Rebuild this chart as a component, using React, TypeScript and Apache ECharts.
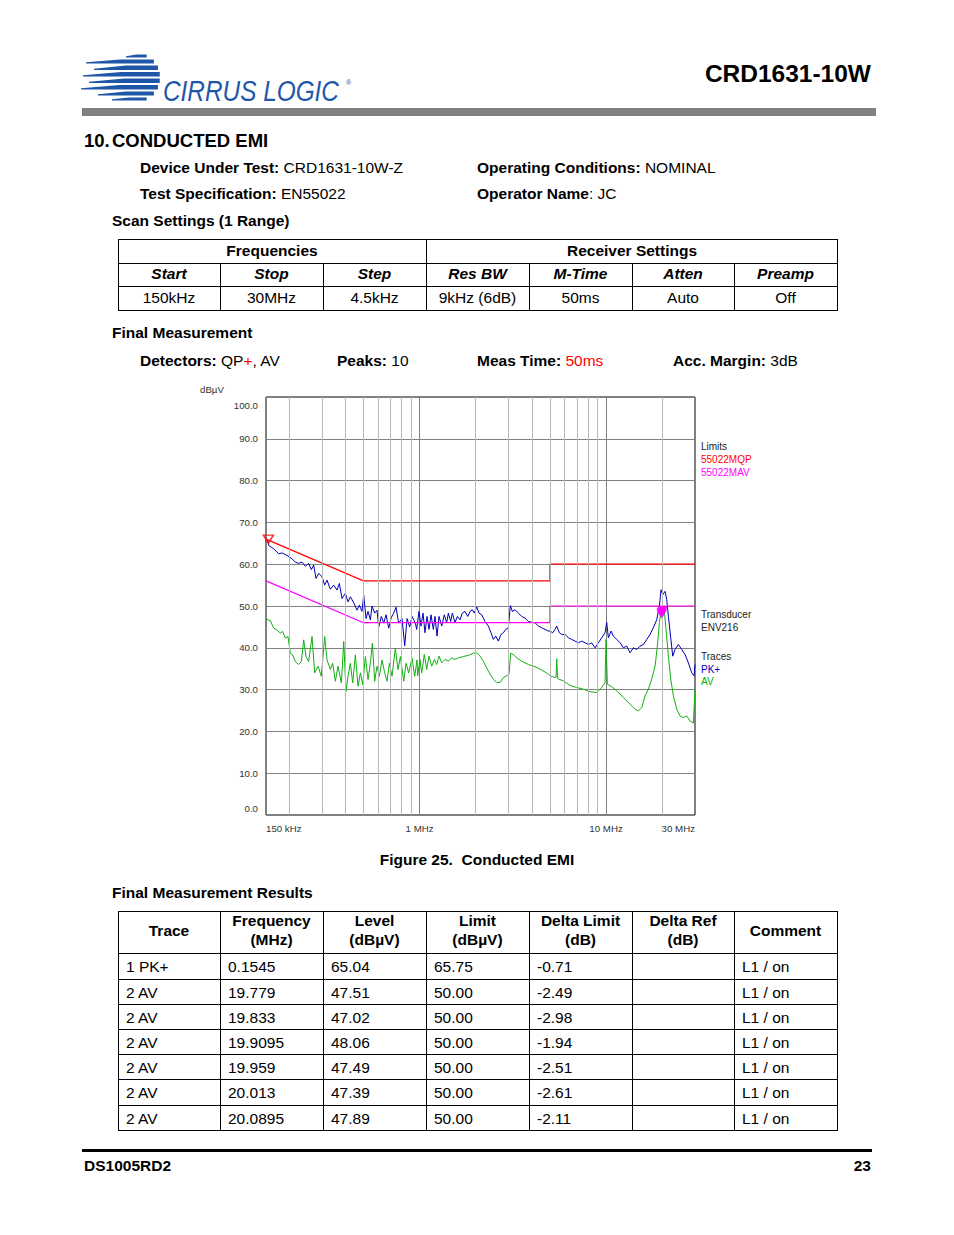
import React, { useEffect, useRef } from 'react';
import * as echarts from 'echarts';

const FONT = '"Liberation Sans", Arial, Helvetica, sans-serif';

// ---------- Data ----------
const pkFreq = [0.15, 0.1519, 0.1545, 0.155, 0.1649, 0.1754, 0.1828, 0.1944, 0.2068, 0.2155, 0.2245, 0.2341, 0.2439, 0.2541, 0.2626, 0.2703, 0.2782, 0.2875, 0.2997, 0.3096, 0.3187, 0.3321, 0.3461, 0.3606, 0.3711, 0.3835, 0.3997, 0.4131, 0.4252, 0.4431, 0.4617, 0.4752, 0.491, 0.5013, 0.516, 0.5289, 0.5443, 0.5557, 0.5742, 0.591, 0.6033, 0.6236, 0.6419, 0.6606, 0.6827, 0.7055, 0.7261, 0.7473, 0.7723, 0.8049, 0.8319, 0.8562, 0.8849, 0.9108, 0.9489, 0.9645, 0.9926, 1.0175, 1.043, 1.069, 1.096, 1.123, 1.151, 1.185, 1.209, 1.24, 1.271, 1.314, 1.357, 1.397, 1.426, 1.468, 1.498, 1.548, 1.594, 1.647, 1.695, 1.752, 1.811, 1.864, 1.918, 1.966, 2.024, 2.083, 2.153, 2.243, 2.338, 2.415, 2.487, 2.559, 2.645, 2.733, 2.813, 2.896, 2.992, 3.067, 3.145, 3.25, 3.387, 3.528, 3.678, 3.832, 3.994, 4.16, 4.335, 4.518, 4.707, 4.905, 5.009, 5.176, 5.326, 5.437, 5.618, 5.782, 6.026, 6.281, 6.545, 6.821, 7.106, 7.405, 7.716, 8.04, 8.378, 8.73, 9.097, 9.48, 9.877, 10.08, 10.29, 10.64, 10.95, 11.41, 11.89, 12.39, 12.91, 13.45, 14.02, 14.61, 15.22, 15.86, 16.53, 17.22, 17.94, 18.7, 19.32, 19.72, 20.14, 20.73, 21.16, 21.6, 22.23, 22.79, 23.45, 24.43, 25.46, 26.53, 27.65, 28.81, 29.66, 30];
const pkLevel = [65.6, 65.8, 65.0, 64.5, 63.7, 62.5, 62.7, 62.1, 61.3, 60.5, 60.2, 60.5, 59.5, 60.2, 58.7, 59.8, 56.6, 57.8, 57.0, 55.0, 56.2, 54.0, 55.0, 53.8, 55.4, 51.8, 53.0, 51.0, 52.2, 50.8, 49.0, 50.2, 48.7, 52.6, 47.0, 48.7, 46.7, 50.0, 48.3, 49.0, 45.0, 47.5, 45.9, 47.9, 44.7, 47.3, 48.3, 49.7, 45.9, 47.0, 40.5, 47.0, 45.0, 47.5, 45.9, 44.4, 48.7, 45.2, 48.3, 43.6, 47.5, 44.4, 47.9, 44.4, 47.5, 42.8, 47.5, 45.2, 47.9, 46.0, 48.3, 46.3, 48.3, 46.0, 47.5, 46.7, 48.3, 48.7, 47.5, 48.7, 49.1, 48.3, 49.8, 48.3, 47.9, 46.3, 45.2, 43.6, 42.0, 42.8, 41.6, 43.2, 43.6, 44.4, 44.8, 50.1, 48.7, 49.1, 48.3, 47.5, 47.1, 46.3, 46.1, 46.0, 45.2, 44.8, 44.4, 44.0, 44.0, 43.6, 44.4, 45.2, 43.6, 43.2, 43.2, 42.4, 42.0, 41.6, 41.2, 41.6, 41.2, 40.8, 41.2, 40.0, 41.2, 42.4, 43.6, 46.1, 42.4, 44.0, 42.8, 42.0, 41.2, 40.0, 40.4, 38.8, 40.0, 39.6, 40.4, 40.8, 42.0, 43.2, 44.8, 46.7, 49.9, 53.9, 52.7, 53.5, 51.5, 47.5, 42.4, 38.0, 39.6, 40.8, 39.6, 38.4, 36.4, 34.0, 33.3, 36.0];

const avFreq = [0.15, 0.1519, 0.1582, 0.1649, 0.1719, 0.1791, 0.1842, 0.1905, 0.1968, 0.2026, 0.2085, 0.2155, 0.2245, 0.2321, 0.2389, 0.2459, 0.2541, 0.2648, 0.2736, 0.2852, 0.2971, 0.3096, 0.3187, 0.3321, 0.3418, 0.3533, 0.3651, 0.3804, 0.3917, 0.4031, 0.4131, 0.4252, 0.4376, 0.4523, 0.4674, 0.4812, 0.4952, 0.5117, 0.5289, 0.5443, 0.558, 0.5742, 0.591, 0.6083, 0.6285, 0.6497, 0.6688, 0.6885, 0.7113, 0.741, 0.7662, 0.7886, 0.8217, 0.8457, 0.8739, 0.9108, 0.9413, 0.9688, 0.976, 1.005, 1.026, 1.06, 1.091, 1.123, 1.161, 1.2, 1.235, 1.271, 1.314, 1.369, 1.426, 1.486, 1.548, 1.614, 1.716, 1.826, 1.942, 2.024, 2.109, 2.197, 2.29, 2.386, 2.487, 2.591, 2.7, 2.813, 2.932, 3.017, 3.08, 3.184, 3.318, 3.528, 3.832, 4.16, 4.518, 4.905, 5.009, 5.326, 5.392, 5.437, 5.505, 5.903, 6.411, 6.962, 7.559, 8.207, 8.911, 9.48, 9.877, 10.0, 10.16, 10.72, 11.41, 12.39, 13.45, 14.31, 14.91, 15.54, 16.19, 16.87, 17.58, 18.32, 18.85, 19.32, 19.72, 20.14, 20.55, 20.98, 21.6, 22.23, 22.98, 23.94, 24.95, 25.99, 27.08, 28.22, 29.41, 30];
const avLevel = [46.9, 46.8, 46.5, 44.7, 44.3, 43.5, 43.9, 42.3, 42.7, 38.7, 38.3, 36.7, 36.0, 36.7, 41.9, 37.9, 36.7, 42.7, 34.0, 35.6, 33.2, 42.7, 37.1, 34.8, 36.3, 32.0, 35.6, 31.6, 41.5, 29.6, 33.2, 36.3, 31.6, 38.3, 30.8, 34.0, 31.2, 37.9, 32.4, 36.3, 41.1, 32.0, 35.6, 33.2, 37.1, 34.0, 32.0, 36.3, 33.2, 39.9, 34.8, 37.9, 32.0, 36.3, 34.0, 37.5, 33.2, 37.1, 33.3, 37.2, 34.0, 38.4, 34.8, 38.0, 35.6, 37.2, 36.0, 38.0, 36.4, 37.2, 36.8, 37.6, 37.2, 37.6, 37.9, 38.2, 38.7, 38.8, 38.0, 36.8, 35.2, 33.7, 32.5, 31.7, 31.7, 32.9, 33.3, 33.7, 38.7, 38.4, 37.6, 36.8, 36.0, 35.5, 34.7, 33.7, 33.3, 32.9, 32.9, 37.4, 32.6, 32.1, 31.0, 30.5, 30.1, 29.5, 29.3, 30.5, 31.7, 42.0, 31.3, 30.7, 29.7, 28.1, 26.5, 25.3, 24.9, 25.7, 28.5, 30.1, 32.5, 35.6, 40.4, 46.0, 48.7, 47.5, 48.7, 44.4, 38.0, 32.5, 28.5, 25.3, 23.7, 23.3, 23.7, 22.5, 22.0, 30.1];

const qpLimitFreq = [0.15, 0.5, 5, 5, 30];
const qpLimitLevel = [66, 56, 56, 60, 60];
const avLimitFreq = [0.15, 0.5, 5, 5, 30];
const avLimitLevel = [56, 46, 46, 50, 50];

const xTickValues = [0.15, 1, 10, 30];
const xTickLabels = ['150 kHz', '1 MHz', '10 MHz', '30 MHz'];
const minorGridFreq = [0.2, 0.3, 0.4, 0.5, 0.6, 0.7, 0.8, 0.9, 2, 3, 4, 5, 6, 7, 8, 9, 20];

// Final measurement results
const resTrace = ['1 PK+', '2 AV', '2 AV', '2 AV', '2 AV', '2 AV', '2 AV'];
const resFreq = ['0.1545', '19.779', '19.833', '19.9095', '19.959', '20.013', '20.0895'];
const resLevel = ['65.04', '47.51', '47.02', '48.06', '47.49', '47.39', '47.89'];
const resLimit = ['65.75', '50.00', '50.00', '50.00', '50.00', '50.00', '50.00'];
const resDelta = ['-0.71', '-2.49', '-2.98', '-1.94', '-2.51', '-2.61', '-2.11'];
const resRef = ['', '', '', '', '', '', ''];
const resComment = ['L1 / on', 'L1 / on', 'L1 / on', 'L1 / on', 'L1 / on', 'L1 / on', 'L1 / on'];

// Scan settings
const scanHeads = ['Start', 'Stop', 'Step', 'Res BW', 'M-Time', 'Atten', 'Preamp'];
const scanValues = ['150kHz', '30MHz', '4.5kHz', '9kHz (6dB)', '50ms', 'Auto', 'Off'];

// ---------- Chart ----------
const zip = (a: number[], b: number[]) => a.map((v, i) => [v, b[i]]);

function EmiChart() {
  const ref = useRef<HTMLDivElement>(null);
  useEffect(() => {
    if (!ref.current) return;
    const chart = echarts.init(ref.current, undefined, { renderer: 'svg' });
    const peaks = resTrace.map((t, i) => ({ t, v: [parseFloat(resFreq[i]), parseFloat(resLevel[i])] }));
    const pkPeaks = peaks.filter(d => d.t.includes('PK')).map(d => d.v);
    const avPeaks = peaks.filter(d => d.t.includes('AV')).map(d => d.v);
    const lbl = { fontFamily: FONT, fontSize: 9.7, color: '#333' };
    const leg = (text: string, y: number, fill: string) => ({ type: 'text', x: 701, y, style: { text, fontFamily: FONT, fontSize: 10, fill, verticalAlign: 'middle' } });
    const option: any = {
      animation: false,
      backgroundColor: 'transparent',
      textStyle: { fontFamily: FONT },
      grid: { left: 266, top: 397, width: 429, height: 418, show: true, borderColor: '#000', borderWidth: 1, backgroundColor: 'transparent', containLabel: false, outerBoundsMode: 'none' },
      xAxis: {
        type: 'log', logBase: 10, min: 0.15, max: 30,
        axisLine: { show: false }, axisTick: { show: false },
        splitLine: { show: true, lineStyle: { color: '#808080', width: 1 } },
        axisLabel: {
          ...lbl, margin: 8, showMinLabel: true, showMaxLabel: true, alignMinLabel: 'left', alignMaxLabel: 'right',
          formatter: (v: number) => {
            const i = xTickValues.findIndex(t => Math.abs(Math.log10(t) - Math.log10(v)) < 0.01);
            return i >= 0 ? xTickLabels[i] : '';
          },
        },
      },
      yAxis: {
        type: 'value', min: 0, max: 100, interval: 10,
        axisLine: { show: false }, axisTick: { show: false },
        splitLine: { show: true, lineStyle: { color: '#808080', width: 1 } },
        axisLabel: {
          ...lbl, margin: 8,
          formatter: (v: number) => v === 100 ? '{t|' + v.toFixed(1) + '}' : v === 0 ? '{b|' + v.toFixed(1) + '}' : v.toFixed(1),
          rich: {
            t: { ...lbl, padding: [16, 0, 0, 0] },
            b: { ...lbl, padding: [0, 0, 14, 0] },
          },
        },
      },
      graphic: [
        { type: 'text', left: 200, top: 384, style: { text: 'dBµV', fontFamily: FONT, fontSize: 9.7, fill: '#333' } },
        leg('Limits', 446, '#222'),
        leg('55022MQP', 459, '#ff0000'),
        leg('55022MAV', 472, '#ff00ff'),
        leg('Transducer', 614, '#222'),
        leg('ENV216', 627, '#222'),
        leg('Traces', 656, '#222'),
        leg('PK+', 669, '#0000c0'),
        leg('AV', 681, '#00b000'),
      ],
      series: [
        {
          type: 'line', data: [], z: 1, silent: true,
          markLine: {
            silent: true, symbol: ['none', 'none'], label: { show: false },
            lineStyle: { color: '#b8b8b8', type: 'solid', width: 1 },
            data: minorGridFreq.map(f => ({ xAxis: f })),
          },
        },
        { name: 'AV', type: 'line', data: zip(avFreq, avLevel), showSymbol: false, symbol: 'none', z: 3, lineStyle: { color: '#10b010', width: 1 } },
        { name: 'PK+', type: 'line', data: zip(pkFreq, pkLevel), showSymbol: false, symbol: 'none', z: 3, lineStyle: { color: '#0000b4', width: 1 } },
        { name: '55022MQP', type: 'line', data: zip(qpLimitFreq, qpLimitLevel), symbol: 'none', z: 4, lineStyle: { color: '#ff0000', width: 1.2 } },
        { name: '55022MAV', type: 'line', data: zip(avLimitFreq, avLimitLevel), symbol: 'none', z: 4, lineStyle: { color: '#ff00ff', width: 1.2 } },
        { type: 'scatter', data: pkPeaks, z: 5, symbol: 'triangle', symbolRotate: 180, symbolSize: [10, 8], symbolOffset: [0, -4], itemStyle: { color: 'rgba(255,255,255,0)', borderColor: '#ff0000', borderWidth: 1.5 } },
        { type: 'scatter', data: avPeaks, z: 5, symbol: 'triangle', symbolRotate: 180, symbolSize: [10, 8], symbolOffset: [0, -4], itemStyle: { color: '#ff00ff' } },
      ],
    };
    chart.setOption(option);
    return () => chart.dispose();
  }, []);
  return <div ref={ref} style={{ position: 'absolute', left: 0, top: 0, width: 954, height: 1235 }} />;
}

// ---------- Page helpers ----------
const BASE = 15.5;
type TP = { x: number; y: number; size?: number; bold?: boolean; italic?: boolean; align?: 'left' | 'center' | 'right'; w?: number; color?: string; children: React.ReactNode };
function T({ x, y, size = BASE, bold, italic, align = 'left', w, color = '#000', children }: TP) {
  const h = 22;
  const style: React.CSSProperties = {
    position: 'absolute', top: y - h / 2, height: h, lineHeight: h + 'px', fontSize: size,
    fontWeight: bold ? 'bold' : 'normal', fontStyle: italic ? 'italic' : 'normal', whiteSpace: 'pre', color,
  };
  if (align === 'left') style.left = x;
  else if (align === 'right') style.right = 954 - x;
  else { style.left = x - (w || 0) / 2; style.width = w; style.textAlign = 'center'; }
  return <div style={style}>{children}</div>;
}
const B = ({ children }: { children: React.ReactNode }) => <span style={{ fontWeight: 'bold' }}>{children}</span>;

function HLine({ x1, x2, y, t = 1, color = '#000' }: { x1: number; x2: number; y: number; t?: number; color?: string }) {
  return <div style={{ position: 'absolute', left: x1, top: y, width: x2 - x1 + 1, height: t, background: color }} />;
}
function VLine({ x, y1, y2, t = 1 }: { x: number; y1: number; y2: number; t?: number }) {
  return <div style={{ position: 'absolute', left: x, top: y1, width: t, height: y2 - y1 + 1, background: '#000' }} />;
}

const cols = [118, 220, 323, 426, 529, 632, 734, 837];

function Logo() {
  const cx = 56, cy = 29.5, r = 24;
  const stripes = [[6.5, 9.5, 46], [11.5, 15.5, 6], [17.5, 22, 14], [24, 28.5, 3], [30.5, 35, 9], [37, 41.5, 1], [43.5, 47.5, 18], [49.5, 52.5, 32]];
  return (
    <>
      <svg width={84} height={62} style={{ position: 'absolute', left: 80, top: 48 }}>
        {stripes.map(([yt, yb, xs], i) => {
          const ym = (yt + yb) / 2;
          const xe = cx + Math.sqrt(Math.max(0, r * r - (ym - cy) * (ym - cy)));
          const xm = xs + (xe - xs) * 0.5;
          return <polygon key={i} points={`${xs},${yb} ${xs},${yb - 1.2} ${xm},${yt} ${xe},${yt} ${xe},${yb}`} fill="#1f57a8" />;
        })}
      </svg>
      <div style={{ position: 'absolute', left: 163, top: 76.5, fontSize: 29, lineHeight: '29px', fontStyle: 'italic', color: '#1f57a8', fontFamily: FONT, whiteSpace: 'pre', transform: 'scaleX(0.84)', transformOrigin: '0 0' }}>CIRRUS LOGIC</div>
      <div style={{ position: 'absolute', left: 346, top: 79, fontSize: 7, lineHeight: '8px', color: '#1f57a8', fontFamily: FONT }}>®</div>
    </>
  );
}

export default function App() {
  const t1Rows = [239, 263, 286, 310];
  const t2Rows = [911, 953, 979, 1004, 1029, 1054, 1079, 1105, 1130];
  const head2: string[][] = [['Trace'], ['Frequency', '(MHz)'], ['Level', '(dBµV)'], ['Limit', '(dBµV)'], ['Delta Limit', '(dB)'], ['Delta Ref', '(dB)'], ['Comment']];
  const rows2 = resTrace.map((t, i) => [t, resFreq[i], resLevel[i], resLimit[i], resDelta[i], resRef[i], resComment[i]]);
  return (
    <div style={{ position: 'absolute', left: 0, top: 0, width: 954, height: 1235, background: '#fff', fontFamily: FONT, color: '#000', overflow: 'hidden' }}>
      <EmiChart />
      <Logo />
      <T x={871} y={74} size={24.5} bold align="right">CRD1631-10W</T>
      <HLine x1={82} x2={875} y={108} t={8} color="#808080" />

      <T x={84} y={141} size={18.5} bold>10.</T>
      <T x={112} y={141} size={18.5} bold>CONDUCTED EMI</T>
      <T x={140} y={168}><B>Device Under Test:</B> CRD1631-10W-Z</T>
      <T x={477} y={168}><B>Operating Conditions:</B> NOMINAL</T>
      <T x={140} y={194}><B>Test Specification:</B> EN55022</T>
      <T x={477} y={194}><B>Operator Name</B>: JC</T>
      <T x={112} y={221} bold>Scan Settings (1 Range)</T>

      {/* Scan settings table */}
      {t1Rows.map((y, i) => <HLine key={'h1' + i} x1={118} x2={837} y={y} />)}
      {cols.map((x, i) => <VLine key={'v1' + i} x={x} y1={i === 0 || i === 3 || i === 7 ? 239 : 263} y2={310} />)}
      <T x={272} y={250.5} w={300} align="center" bold>Frequencies</T>
      <T x={632} y={250.5} w={400} align="center" bold>Receiver Settings</T>
      {scanHeads.map((h, i) => <T key={'sh' + i} x={(cols[i] + cols[i + 1]) / 2} y={274} w={100} align="center" bold italic>{h}</T>)}
      {scanValues.map((v, i) => <T key={'sv' + i} x={(cols[i] + cols[i + 1]) / 2} y={297.5} w={100} align="center">{v}</T>)}

      <T x={112} y={333} bold>Final Measurement</T>
      <T x={140} y={361}><B>Detectors:</B> QP<span style={{ color: '#ff0000' }}>+</span>, AV</T>
      <T x={337} y={361}><B>Peaks:</B> 10</T>
      <T x={477} y={361}><B>Meas Time:</B> <span style={{ color: '#ff0000' }}>50ms</span></T>
      <T x={673} y={361}><B>Acc. Margin:</B> 3dB</T>

      <T x={477} y={860} w={400} align="center" bold>{'Figure 25.  Conducted EMI'}</T>
      <T x={112} y={893} bold>Final Measurement Results</T>

      {/* Results table */}
      {t2Rows.map((y, i) => <HLine key={'h2' + i} x1={118} x2={837} y={y} />)}
      {cols.map((x, i) => <VLine key={'v2' + i} x={x} y1={911} y2={1130} />)}
      {head2.map((lines, i) => lines.length === 1
        ? <T key={'hh' + i} x={(cols[i] + cols[i + 1]) / 2} y={931} w={100} align="center" bold>{lines[0]}</T>
        : lines.map((l, j) => <T key={'hh' + i + '_' + j} x={(cols[i] + cols[i + 1]) / 2} y={j === 0 ? 921 : 940} w={100} align="center" bold>{l}</T>))}
      {rows2.map((r, ri) => r.map((c, ci) => (
        <T key={'c' + ri + '_' + ci} x={cols[ci] + 8} y={(t2Rows[ri + 1] + t2Rows[ri + 2]) / 2 + 1}>{c}</T>
      )))}

      <HLine x1={82} x2={871} y={1149} t={3} />
      <T x={84} y={1166} bold>DS1005RD2</T>
      <T x={871} y={1166} bold align="right">23</T>
    </div>
  );
}
